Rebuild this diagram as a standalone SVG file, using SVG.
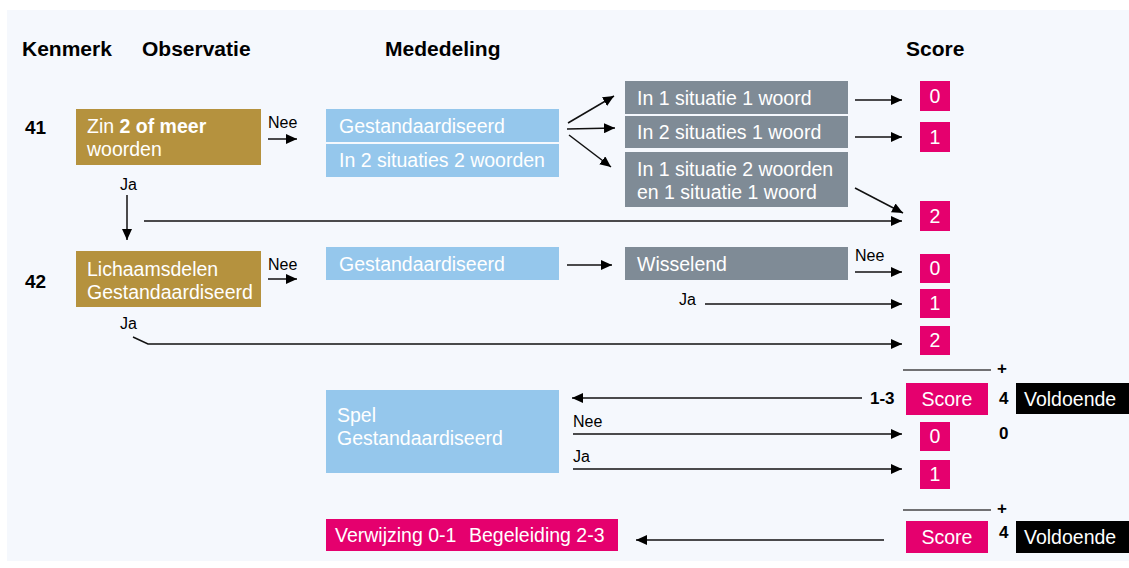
<svg xmlns="http://www.w3.org/2000/svg" width="1129" height="568" viewBox="0 0 1129 568">
<style>
.bg{fill:#f5f8fd}
.gold{fill:#b5923e}
.blue{fill:#95c7ec}
.gray{fill:#7f8b96}
.pink{fill:#e5006e}
.black{fill:#000}
text{font-family:"Liberation Sans",Arial,sans-serif}
.hd{font-size:21px;font-weight:bold;fill:#000}
.num{font-size:19px;font-weight:bold;fill:#000}
.bt{font-size:19.5px;fill:#fff}
.lbl{font-size:16px;fill:#000}
.bnum{font-size:17px;font-weight:bold;fill:#000}
.ctr{text-anchor:middle}
.conn line,.conn polyline{stroke:#111;stroke-width:1.5;fill:none}
.arr{marker-end:url(#ah)}
</style>
<defs>
<marker id="ah" markerUnits="userSpaceOnUse" markerWidth="11" markerHeight="10" refX="11" refY="5" orient="auto">
<path d="M0,0 L11,5 L0,10 z" fill="#000"/>
</marker>
</defs>
<rect class="bg" x="7" y="10" width="1122" height="551"/>

<g id="headers">
<text class="hd" x="22" y="56">Kenmerk</text>
<text class="hd" x="142" y="56">Observatie</text>
<text class="hd" x="385" y="56">Mededeling</text>
<text class="hd" x="906" y="56">Score</text>
</g>

<g id="k41"><text class="num" x="25" y="134">41</text></g>
<g id="obs41">
<rect class="gold" x="76" y="109" width="185" height="56"/>
<text class="bt" x="87" y="133">Zin <tspan font-weight="bold">2 of meer</tspan></text>
<text class="bt" x="87" y="156">woorden</text>
</g>
<g id="m41a"><rect class="blue" x="326" y="109" width="233" height="33"/><text class="bt" x="339" y="133">Gestandaardiseerd</text></g>
<g id="m41b"><rect class="blue" x="326" y="144" width="233" height="33"/><text class="bt" x="339" y="167">In 2 situaties 2 woorden</text></g>
<g id="g41a"><rect class="gray" x="625" y="81" width="223" height="33"/><text class="bt" x="637" y="105">In 1 situatie 1 woord</text></g>
<g id="g41b"><rect class="gray" x="625" y="116" width="223" height="32"/><text class="bt" x="637" y="139">In 2 situaties 1 woord</text></g>
<g id="g41c"><rect class="gray" x="625" y="152" width="223" height="55"/><text class="bt" x="637" y="176">In 1 situatie 2 woorden</text><text class="bt" x="637" y="199">en 1 situatie 1 woord</text></g>
<g id="s41-0"><rect class="pink" x="920" y="81" width="30" height="30"/><text class="bt ctr" x="935" y="103">0</text></g>
<g id="s41-1"><rect class="pink" x="920" y="122" width="30" height="30"/><text class="bt ctr" x="935" y="144">1</text></g>
<g id="s41-2"><rect class="pink" x="920" y="201" width="30" height="30"/><text class="bt ctr" x="935" y="223">2</text></g>

<g id="k42"><text class="num" x="25" y="288">42</text></g>
<g id="obs42">
<rect class="gold" x="76" y="251" width="185" height="56"/>
<text class="bt" x="87" y="276">Lichaamsdelen</text>
<text class="bt" x="87" y="299">Gestandaardiseerd</text>
</g>
<g id="m42"><rect class="blue" x="326" y="247" width="233" height="33"/><text class="bt" x="339" y="271">Gestandaardiseerd</text></g>
<g id="g42"><rect class="gray" x="625" y="247" width="223" height="33"/><text class="bt" x="637" y="271">Wisselend</text></g>
<g id="s42-0"><rect class="pink" x="920" y="254" width="30" height="29"/><text class="bt ctr" x="935" y="275">0</text></g>
<g id="s42-1"><rect class="pink" x="920" y="289" width="30" height="29"/><text class="bt ctr" x="935" y="310">1</text></g>
<g id="s42-2"><rect class="pink" x="920" y="326" width="30" height="29"/><text class="bt ctr" x="935" y="347">2</text></g>

<g id="sum1">
<line x1="903" y1="370" x2="991" y2="370" stroke="#444" stroke-width="1.5"/>
<text class="bnum" x="997" y="374">+</text>
<text class="bnum" x="870" y="404">1-3</text>
<text class="bnum" x="999" y="404">4</text>
</g>
<g id="score1"><rect class="pink" x="906" y="383" width="82" height="32"/><text class="bt ctr" x="947" y="406">Score</text></g>
<g id="vold1"><rect class="black" x="1016" y="383" width="113" height="31"/><text class="bt" x="1024" y="406">Voldoende</text></g>

<g id="spel"><rect class="blue" x="326" y="390" width="233" height="83"/><text class="bt" x="337" y="422">Spel</text><text class="bt" x="337" y="445">Gestandaardiseerd</text></g>
<g id="s-spel-0"><rect class="pink" x="920" y="422" width="30" height="29"/><text class="bt ctr" x="935" y="443">0</text></g>
<g id="s-spel-1"><rect class="pink" x="920" y="460" width="30" height="29"/><text class="bt ctr" x="935" y="481">1</text></g>
<g id="zero"><text class="bnum" x="999" y="439">0</text></g>

<g id="sum2">
<line x1="903" y1="510" x2="991" y2="510" stroke="#444" stroke-width="1.5"/>
<text class="bnum" x="997" y="514">+</text>
<text class="bnum" x="999" y="538">4</text>
</g>
<g id="result"><rect class="pink" x="326" y="519" width="292" height="32"/><text class="bt" x="335" y="542">Verwijzing 0-1</text><text class="bt" x="469" y="542">Begeleiding 2-3</text></g>
<g id="score2"><rect class="pink" x="906" y="521" width="82" height="32"/><text class="bt ctr" x="947" y="544">Score</text></g>
<g id="vold2"><rect class="black" x="1016" y="521" width="113" height="32"/><text class="bt" x="1024" y="544">Voldoende</text></g>

<g id="connectors" class="conn">
<line class="arr" x1="268" y1="139" x2="297" y2="139"/>
<line class="arr" x1="568" y1="123" x2="614" y2="96"/>
<line class="arr" x1="567" y1="129" x2="615" y2="128"/>
<line class="arr" x1="569" y1="135" x2="611" y2="167"/>
<line class="arr" x1="855" y1="100" x2="902" y2="100"/>
<line class="arr" x1="855" y1="137" x2="902" y2="137"/>
<line class="arr" x1="855" y1="188" x2="903" y2="213"/>
<line class="arr" x1="127" y1="195" x2="127" y2="240"/>
<line class="arr" x1="144" y1="221" x2="902" y2="221"/>
<line class="arr" x1="268" y1="279" x2="297" y2="279"/>
<line class="arr" x1="567" y1="265" x2="612" y2="265"/>
<line class="arr" x1="855" y1="272" x2="902" y2="272"/>
<line class="arr" x1="705" y1="304" x2="902" y2="304"/>
<polyline class="arr" points="133,337 148,344 902,344"/>
<line class="arr" x1="862" y1="398" x2="572" y2="398"/>
<line class="arr" x1="573" y1="434" x2="902" y2="434"/>
<line class="arr" x1="573" y1="469" x2="902" y2="469"/>
<line class="arr" x1="884" y1="540" x2="636" y2="540"/>
</g>

<g id="labels">
<text class="lbl" x="268" y="128">Nee</text>
<text class="lbl" x="120" y="190">Ja</text>
<text class="lbl" x="268" y="270">Nee</text>
<text class="lbl" x="855" y="261">Nee</text>
<text class="lbl" x="679" y="305">Ja</text>
<text class="lbl" x="120" y="329">Ja</text>
<text class="lbl" x="573" y="427">Nee</text>
<text class="lbl" x="573" y="462">Ja</text>
</g>
</svg>
